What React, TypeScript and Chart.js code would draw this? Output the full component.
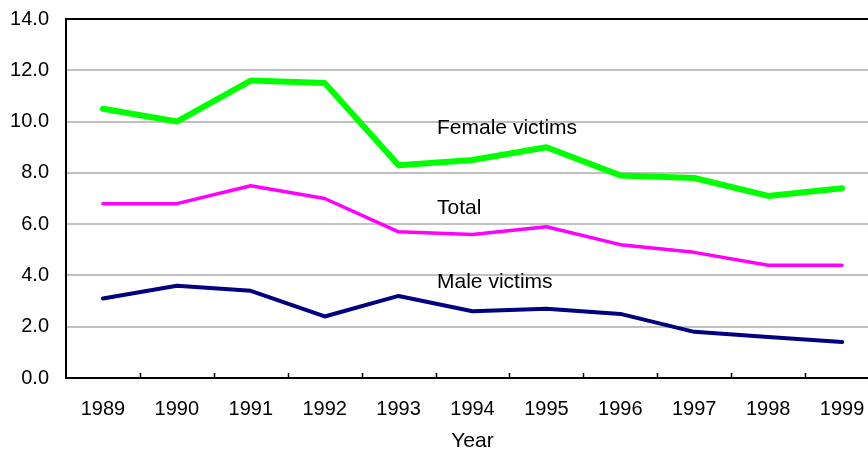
import React, { useEffect, useRef } from "react";
import { Chart, registerables } from "chart.js";

Chart.register(...registerables);

const years = ["1989", "1990", "1991", "1992", "1993", "1994", "1995", "1996", "1997", "1998", "1999"];
const femaleVictims = [10.5, 10.0, 11.6, 11.5, 8.3, 8.5, 9.0, 7.9, 7.8, 7.1, 7.4];
const totalVictims = [6.8, 6.8, 7.5, 7.0, 5.7, 5.6, 5.9, 5.2, 4.9, 4.4, 4.4];
const maleVictims = [3.1, 3.6, 3.4, 2.4, 3.2, 2.6, 2.7, 2.5, 1.8, 1.6, 1.4];

const seriesNames = ["Female victims", "Total", "Male victims"];
const seriesColors = ["#00ff00", "#ff00ff", "#000080"];
const seriesWidths = [6, 3.5, 4];
// annotation anchors (category index, value) for the in-plot series names
const noteIndex = [4.52, 4.52, 4.52];
const noteValue = [9.5, 6.4, 3.5];

const yMin = 0;
const yMax = 14;
const yStep = 2;
const xTitle = "Year";

const FONT = "'Liberation Sans', Arial, Helvetica, sans-serif";

const innerTicksPlugin = {
  id: "innerTicks",
  afterDraw(chart: any) {
    const x = chart.scales.x;
    const { ctx, chartArea } = chart;
    ctx.save();
    ctx.strokeStyle = "#000";
    ctx.lineWidth = 1.5;
    for (let i = 0; i < years.length; i++) {
      const px = Math.round(x.getPixelForValue(i + 0.5)) + 0.5;
      ctx.beginPath();
      ctx.moveTo(px, chartArea.bottom);
      ctx.lineTo(px, chartArea.bottom - 5);
      ctx.stroke();
    }
    ctx.restore();
  },
};

const notesPlugin = {
  id: "seriesNotes",
  afterDatasetsDraw(chart: any) {
    const x = chart.scales.x;
    const y = chart.scales.y;
    const { ctx } = chart;
    ctx.save();
    ctx.fillStyle = "#000";
    ctx.font = `21px ${FONT}`;
    ctx.textAlign = "left";
    ctx.textBaseline = "alphabetic";
    seriesNames.forEach((name, i) => {
      ctx.fillText(name, x.getPixelForValue(noteIndex[i]), y.getPixelForValue(noteValue[i]));
    });
    ctx.restore();
  },
};

export default function App() {
  const ref = useRef<HTMLCanvasElement | null>(null);

  useEffect(() => {
    if (!ref.current) return;
    Chart.defaults.font.family = FONT;
    const series = [femaleVictims, totalVictims, maleVictims];
    const chart = new Chart(ref.current, {
      type: "line",
      data: {
        labels: years,
        datasets: series.map((d, i) => ({
          label: seriesNames[i],
          data: d,
          borderColor: seriesColors[i],
          backgroundColor: seriesColors[i],
          borderWidth: seriesWidths[i],
          pointRadius: 0,
          tension: 0,
          borderCapStyle: "round" as const,
          borderJoinStyle: "round" as const,
          fill: false,
        })),
      },
      options: {
        responsive: false,
        animation: false,
        layout: { padding: { left: 10, top: 19, right: 0, bottom: 0 } },
        plugins: { legend: { display: false }, tooltip: { enabled: false } },
        scales: {
          x: {
            offset: true,
            grid: { display: false, drawTicks: false },
            border: { display: true, color: "#000", width: 2 },
            ticks: { color: "#000", font: { size: 20 }, padding: 19, maxRotation: 0, autoSkip: false },
            title: {
              display: true,
              text: xTitle,
              color: "#000",
              font: { size: 21, lineHeight: 1 },
              padding: { top: 12, bottom: 0 },
            },
            afterFit: (s: any) => {
              s.paddingLeft = 0;
              s.paddingRight = 0;
              s.height = 74;
            },
          },
          y: {
            min: yMin,
            max: yMax,
            grid: {
              drawTicks: false,
              lineWidth: 2,
              color: (c: any) =>
                c.tick && (c.tick.value === yMax || c.tick.value === yMin) ? "#000" : "#c0c0c0",
            },
            border: { display: true, color: "#000", width: 2 },
            ticks: {
              stepSize: yStep,
              color: "#000",
              font: { size: 20 },
              padding: 17,
              callback: (v: any) => Number(v).toFixed(1),
            },
            afterFit: (s: any) => {
              s.paddingTop = 0;
              s.paddingBottom = 0;
              s.width = 56;
            },
          },
        },
      },
      plugins: [innerTicksPlugin, notesPlugin],
    });
    return () => chart.destroy();
  }, []);

  return (
    <div style={{ position: "fixed", left: 0, top: 0, width: 868, height: 452, overflow: "hidden", background: "#fff" }}>
      <canvas ref={ref} width={879} height={452} style={{ display: "block" }} />
    </div>
  );
}
